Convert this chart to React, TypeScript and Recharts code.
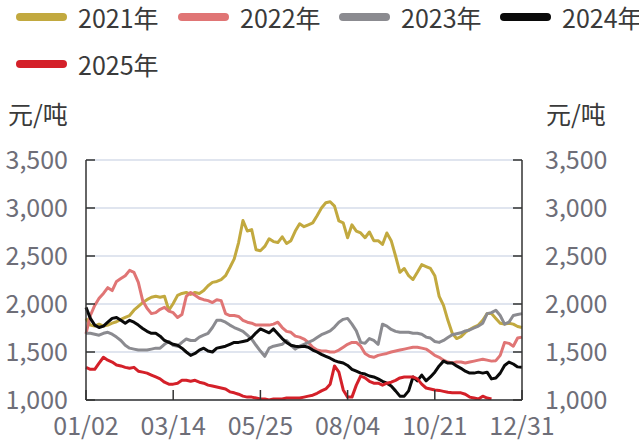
import React from 'react';
import { LineChart, Line, XAxis, YAxis, CartesianGrid } from 'recharts';

// one value every ~3.6 days, 101 points from 01/02 to 12/31
const s2021 = [1850, 1780, 1770, 1790, 1770, 1780, 1800, 1815, 1840, 1860,
  1880, 1935, 1975, 2015, 2045, 2070, 2080, 2070, 2080, 1935,
  2005, 2090, 2110, 2120, 2100, 2120, 2110, 2140, 2190, 2225,
  2235, 2255, 2295, 2380, 2470, 2640, 2870, 2760, 2775, 2565,
  2555, 2600, 2680, 2650, 2640, 2700, 2630, 2660, 2760, 2835,
  2805, 2825, 2845, 2920, 3000, 3055, 3065, 3020, 2865, 2845,
  2690, 2825, 2760, 2740, 2690, 2750, 2660, 2660, 2620, 2740,
  2660, 2500, 2330, 2370, 2295, 2255, 2330, 2410, 2390, 2370,
  2295, 2080, 1985, 1830, 1695, 1640, 1660, 1705, 1735, 1760,
  1780, 1830, 1900, 1900, 1850, 1800, 1790, 1800, 1790, 1765,
  1755];
const s2022 = [1690, 1880, 1985, 2060, 2110, 2170, 2140, 2235, 2265, 2295,
  2350, 2330, 2225, 2035, 1955, 1900, 1910, 1945, 1965, 1925,
  1910, 1860, 1890, 2080, 2120, 2090, 2060, 2045, 2035, 2015,
  2045, 2035, 1900, 1880, 1880, 1870, 1830, 1810, 1800, 1780,
  1780, 1780, 1780, 1790, 1810, 1755, 1715, 1705, 1665, 1655,
  1635, 1600, 1550, 1520, 1510, 1510, 1500, 1500, 1520, 1550,
  1580, 1600, 1600, 1560, 1485, 1455, 1445, 1465, 1475, 1485,
  1500, 1510, 1520, 1530, 1540, 1550, 1550, 1540, 1530, 1500,
  1465, 1445, 1415, 1395, 1385, 1395, 1395, 1385, 1395, 1405,
  1415, 1425, 1415, 1405, 1410, 1465, 1600, 1590, 1560, 1645,
  1655];
const s2023 = [1695, 1695, 1685, 1675, 1695, 1705, 1685, 1655, 1620, 1570,
  1540, 1530, 1520, 1520, 1520, 1530, 1540, 1540, 1580, 1610,
  1570, 1560, 1600, 1635, 1620, 1620, 1655, 1675, 1695, 1755,
  1830, 1830, 1810, 1780, 1755, 1735, 1715, 1675, 1635, 1570,
  1510, 1455, 1540, 1560, 1570, 1580, 1620, 1570, 1530, 1560,
  1580, 1600, 1620, 1650, 1680, 1700, 1720, 1760, 1810, 1840,
  1850, 1790, 1720, 1600, 1590, 1640, 1620, 1580, 1790, 1770,
  1735, 1715, 1705, 1705, 1705, 1695, 1695, 1685, 1655, 1645,
  1610, 1600, 1620, 1650, 1680, 1690, 1700, 1720, 1730, 1750,
  1770, 1800, 1900, 1910, 1935, 1880, 1790, 1810, 1880, 1890,
  1900];
const s2024 = [1965, 1850, 1780, 1755, 1770, 1810, 1850, 1860, 1830, 1800,
  1830, 1810, 1780, 1745, 1715, 1695, 1695, 1665, 1620, 1600,
  1580, 1570, 1540, 1500, 1465, 1485, 1520, 1540, 1510, 1500,
  1540, 1550, 1560, 1580, 1600, 1600, 1610, 1620, 1650, 1700,
  1740, 1720, 1700, 1740, 1690, 1640, 1600, 1570, 1560, 1555,
  1560, 1550, 1520, 1500, 1475, 1455, 1435, 1410, 1395, 1385,
  1360, 1320, 1300, 1280, 1270, 1250, 1240, 1220, 1195, 1175,
  1145, 1095, 1040, 1040, 1095, 1240, 1200, 1260, 1200, 1240,
  1290, 1355, 1405, 1385, 1385, 1355, 1330, 1300, 1280, 1280,
  1290, 1280, 1290, 1220, 1230, 1280, 1360, 1395, 1375, 1345,
  1340];
const s2025 = [1340, 1320, 1320, 1385, 1445, 1415, 1395, 1365, 1355, 1340,
  1330, 1340, 1300, 1290, 1280, 1260, 1240, 1220, 1185, 1165,
  1165, 1175, 1205, 1205, 1195, 1205, 1185, 1175, 1155, 1145,
  1135, 1125, 1115, 1085, 1075, 1060, 1040, 1030, 1030, 1020,
  1010, 1010, 1000, 1010, 1010, 1010, 1020, 1020, 1020, 1020,
  1030, 1040, 1050, 1070, 1095, 1115, 1165, 1355, 1290, 1105,
  1030, 1030, 1155, 1250, 1230, 1195, 1175, 1175, 1155, 1175,
  1185, 1205, 1230, 1240, 1240, 1240, 1220, 1165, 1125, 1115,
  1105, 1100, 1090, 1080, 1075, 1075, 1075, 1060, 1030, 1020,
  1010, 1040, 1020, 1010];

const seriesNames = ['2021年', '2022年', '2023年', '2024年', '2025年'];
const seriesColors = ['#c2a93f', '#e07575', '#8b8b90', '#0a0a0a', '#d42029'];
const seriesKeys = ['y2021', 'y2022', 'y2023', 'y2024', 'y2025'];
const seriesValues = [s2021, s2022, s2023, s2024, s2025];

const xTicks = [0, 20, 40, 60, 80, 100];
const xTickLabels = ['01/02', '03/14', '05/25', '08/04', '10/21', '12/31'];
const yTicks = [1000, 1500, 2000, 2500, 3000, 3500];
const unitLabel = '元/吨';

const data = s2021.map((_, i) => {
  const row: Record<string, number | null> = { t: i };
  seriesKeys.forEach((k, j) => {
    const v = seriesValues[j][i];
    row[k] = v === undefined ? null : v;
  });
  return row;
});

const FONT = '"Noto Sans CJK SC", "Noto Sans", sans-serif';
const tickStyle = { fontSize: 25, fill: '#6e6e78', fontFamily: FONT };
const axisStroke = { stroke: '#333', strokeWidth: 1.5 };
const fmtY = (v: number) => v.toLocaleString('en-US');
const fmtX = (v: number) => xTickLabels[xTicks.indexOf(v)] ?? '';

const legendPos = [
  { left: 16, top: 2 },
  { left: 178, top: 2 },
  { left: 339, top: 2 },
  { left: 500, top: 2 },
  { left: 16, top: 49 },
];

export default function App() {
  return (
    <div style={{ position: 'absolute', left: 0, top: 0, width: 639, height: 443, background: '#fff', fontFamily: FONT, overflow: 'hidden' }}>
      {seriesNames.map((name, i) => (
        <div key={name} style={{ position: 'absolute', left: legendPos[i].left, top: legendPos[i].top, height: 30, display: 'flex', alignItems: 'center' }}>
          <div style={{ width: 51, height: 8, borderRadius: 4, background: seriesColors[i], marginRight: 11 }} />
          <span style={{ fontSize: 25, lineHeight: '30px', color: '#3a3a3a', whiteSpace: 'nowrap' }}>{name}</span>
        </div>
      ))}
      <div style={{ position: 'absolute', left: 8, top: 98, fontSize: 25, lineHeight: '30px', color: '#3a3a3a' }}>{unitLabel}</div>
      <div style={{ position: 'absolute', left: 546, top: 98, fontSize: 25, lineHeight: '30px', color: '#3a3a3a' }}>{unitLabel}</div>
      <div style={{ position: 'absolute', left: 0, top: 0 }}>
        <LineChart width={639} height={443} data={data} margin={{ top: 160, right: 0, bottom: 0, left: 0 }}>
          <CartesianGrid yAxisId="left" horizontal vertical={false} stroke="#d6dcea" strokeWidth={1.5} />
          <XAxis
            dataKey="t"
            type="number"
            domain={[0, 100]}
            ticks={xTicks}
            tickFormatter={fmtX}
            height={43}
            tickSize={-10}
            tickMargin={27}
            tick={tickStyle}
            axisLine={axisStroke}
            tickLine={axisStroke}
            interval={0}
          />
          <YAxis
            yAxisId="left"
            domain={[1000, 3500]}
            ticks={yTicks}
            tickFormatter={fmtY}
            width={86}
            tickSize={-9}
            tickMargin={27}
            tick={tickStyle}
            axisLine={axisStroke}
            tickLine={axisStroke}
            allowDataOverflow
            interval={0}
          />
          <YAxis
            yAxisId="right"
            orientation="right"
            domain={[1000, 3500]}
            ticks={yTicks}
            tickFormatter={fmtY}
            width={117}
            tickSize={-9}
            tickMargin={32}
            tick={tickStyle}
            axisLine={axisStroke}
            tickLine={axisStroke}
            allowDataOverflow
            interval={0}
          />
          {seriesKeys.map((k, i) => (
            <Line
              key={k}
              yAxisId={i === 0 ? 'right' : 'left'}
              dataKey={k}
              type="linear"
              stroke={seriesColors[i]}
              strokeWidth={3}
              dot={false}
              activeDot={false}
              connectNulls={false}
              strokeLinejoin="round"
              isAnimationActive={false}
            />
          ))}
        </LineChart>
      </div>
    </div>
  );
}
